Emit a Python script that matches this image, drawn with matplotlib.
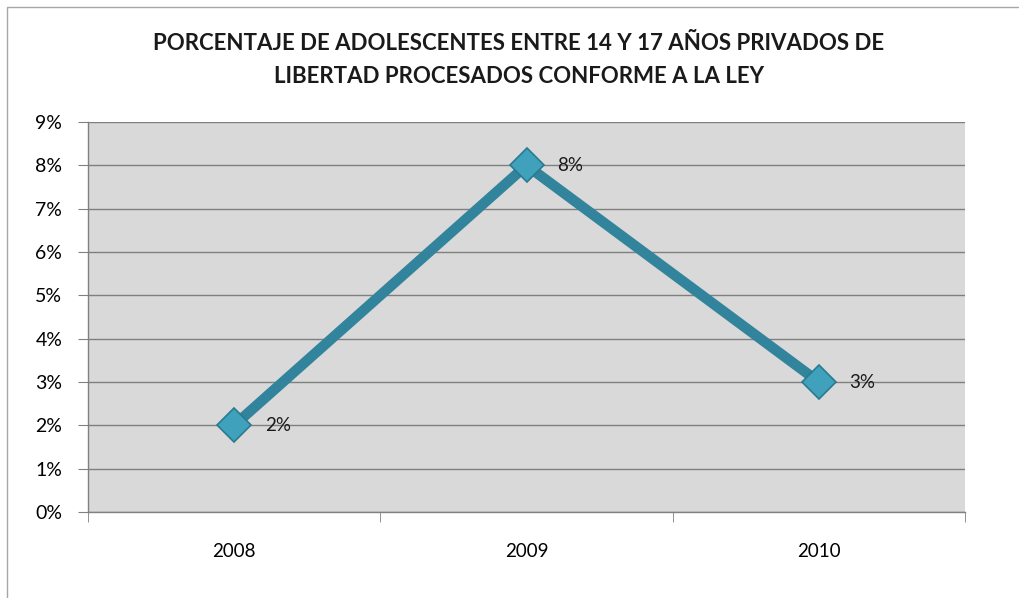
import matplotlib
matplotlib.use("Agg")
import matplotlib.pyplot as plt
from matplotlib.patches import Rectangle
from matplotlib.ticker import FuncFormatter

years = ["2008", "2009", "2010"]
values = [2, 8, 3]
labels = ["2%", "8%", "3%"]
title = "PORCENTAJE DE ADOLESCENTES ENTRE 14 Y 17 AÑOS PRIVADOS DE\nLIBERTAD PROCESADOS CONFORME A LA LEY"

plt.rcParams['font.family'] = ['Lato', 'DejaVu Sans']

fig = plt.figure(figsize=(10.19, 5.98), dpi=100)
fig.patch.set_facecolor("white")
fig.patches.append(Rectangle((7/1019, -0.01), 1.02, 1 - 7/598 + 0.01, transform=fig.transFigure,
                             fill=False, edgecolor="#a6a6a6", linewidth=1))

ax = fig.add_axes([88/1019, 1 - 512/598, (965 - 88)/1019, (512 - 122)/598])
ax.set_facecolor("#d9d9d9")
x = list(range(len(years)))
ax.plot(x, values, color="#31849b", linewidth=7.5, solid_capstyle="butt", zorder=3)
ax.plot(x, values, linestyle="none", marker="D", markersize=17, markerfacecolor="#3fa1bc",
        markeredgecolor="#2a7a8f", markeredgewidth=1.2, zorder=4)
for xi, v, lab in zip(x, values, labels):
    ax.annotate(lab, (xi, v), xytext=(22, 0), textcoords="offset points", va="center", ha="left",
                fontsize=13.5, color="#1a1a1a")

ax.set_xlim(-0.5, len(years) - 0.5)
ax.set_ylim(0, 9)
ax.set_yticks(range(0, 10))
ax.yaxis.set_major_formatter(FuncFormatter(lambda v, p: f"{int(v)}%"))
ax.set_xticks(x)
ax.set_xticklabels(years)
ax.set_xticks([-0.5, 0.5, 1.5, 2.5], minor=True)
ax.tick_params(axis="x", which="major", length=0, pad=22, labelsize=13.5)
ax.tick_params(axis="x", which="minor", length=7, color="#808080", direction="out")
ax.tick_params(axis="y", length=7.5, color="#808080", labelsize=14, pad=11)
ax.grid(axis="y", color="#7f7f7f", linewidth=1)
ax.set_axisbelow(True)
for s in ["top", "right"]:
    ax.spines[s].set_visible(False)
for s in ["left", "bottom"]:
    ax.spines[s].set_color("#808080")
    ax.spines[s].set_linewidth(1)

fig.text(519/1019, 1 - 60/598, title, ha="center", va="center", fontsize=16, fontweight="bold",
         color="#1a1a1a", linespacing=1.65)

fig.savefig("out.png", dpi=100)
